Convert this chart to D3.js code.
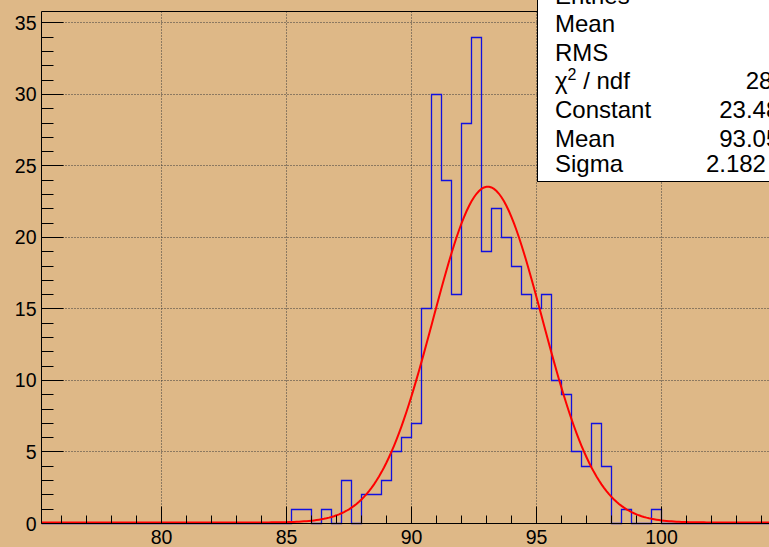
<!DOCTYPE html>
<html>
<head>
<meta charset="utf-8">
<script src="https://cdn.jsdelivr.net/npm/d3@7"></script>
<style>
  html, body { margin: 0; padding: 0; background: #deb887; }
  svg { display: block; font-family: "Liberation Sans", Arial, sans-serif; }
</style>
</head>
<body>
<div id="chart"></div>
<script>
// Histogram bins (low edges, width 0.4) and their counts
const binLow = [85.2, 85.6, 86.0, 86.4, 86.8, 87.2, 87.6, 88.0, 88.4, 88.8,
  89.2, 89.6, 90.0, 90.4, 90.8, 91.2, 91.6, 92.0, 92.4, 92.8,
  93.2, 93.6, 94.0, 94.4, 94.8, 95.2, 95.6, 96.0, 96.4, 96.8,
  97.2, 97.6, 98.0, 98.4, 98.8, 99.2, 99.6];
const counts = [1, 1, 0, 1, 0, 3, 0, 2, 2, 3,
  5, 6, 7, 15, 30, 24, 16, 28, 34, 19,
  22, 20, 18, 16, 15, 16, 10, 9, 5, 4,
  7, 4, 0, 1, 0, 0, 1];
const binWidth = 0.4;

// Gaussian fit parameters shown in the stats box
const fitNames = ['Constant', 'Mean', 'Sigma'];
const fitValues = ['23.48 \u00b1 1.62', '93.05 \u00b1 0.12', '2.182 \u00b1 0.109'];
const fitConstant = 23.48;
const fitMean = 93.05;
const fitSigma = 2.182;
const chi2Text = '28.35 / 31';

// Axis ticks
const xMajor = [80, 85, 90, 95, 100];
const yMajor = [0, 5, 10, 15, 20, 25, 30, 35];

const width = 769;
const height = 547;

const svg = d3.select('#chart')
  .append('svg')
  .attr('width', width)
  .attr('height', height);

svg.append('rect')
  .attr('width', width)
  .attr('height', height)
  .attr('fill', '#deb887');

// Frame: left edge 41.5, top 11.5, bottom 523.5; right side runs off the picture
const frame = { left: 41.5, top: 11.5, bottom: 523.5, right: 791.5 };

const x = d3.scaleLinear()
  .domain([75.2, 105.2])
  .range([frame.left, frame.right]);

const y = d3.scaleLinear()
  .domain([0, 35.8])
  .range([frame.bottom, frame.top]);

// snap to pixel centres so 1px lines stay sharp
const px = v => Math.round(v - 0.5) + 0.5;

// Grid (dotted) at major ticks
const grid = svg.append('g')
  .attr('stroke', '#3a3a3a')
  .attr('stroke-width', 1)
  .attr('stroke-dasharray', '1,2');

grid.selectAll('.vgrid')
  .data(xMajor)
  .join('line')
  .attr('class', 'vgrid')
  .attr('x1', d => px(x(d)))
  .attr('x2', d => px(x(d)))
  .attr('y1', frame.top)
  .attr('y2', frame.bottom);

grid.selectAll('.hgrid')
  .data(yMajor.filter(d => d > 0))
  .join('line')
  .attr('class', 'hgrid')
  .attr('x1', frame.left)
  .attr('x2', width)
  .attr('y1', d => px(y(d)))
  .attr('y2', d => px(y(d)));

// Histogram outline as a step path
const histPath = d3.path();
histPath.moveTo(x(75.2), px(y(0)));
histPath.lineTo(x(binLow[0]), px(y(0)));
binLow.forEach(function (lo, i) {
  histPath.lineTo(x(lo), px(y(counts[i])));
  histPath.lineTo(x(lo + binWidth), px(y(counts[i])));
});
histPath.lineTo(x(binLow[binLow.length - 1] + binWidth), px(y(0)));
histPath.lineTo(x(105.2), px(y(0)));

svg.append('path')
  .attr('d', histPath.toString())
  .attr('fill', 'none')
  .attr('stroke', '#1010e0')
  .attr('stroke-width', 1.3);

// Gaussian fit curve
const curveX = d3.range(0, 301).map(i => 75.2 + i * 0.1);
const gauss = v => fitConstant * Math.exp(-0.5 * Math.pow((v - fitMean) / fitSigma, 2));

svg.append('path')
  .datum(curveX)
  .attr('d', d3.line()
    .x(d => x(d))
    .y(d => y(gauss(d)) - 1))
  .attr('fill', 'none')
  .attr('stroke', '#ff0000')
  .attr('stroke-width', 2);

// Axes: frame lines and inward ticks
const axes = svg.append('g')
  .attr('stroke', '#000')
  .attr('stroke-width', 1);

axes.append('line')
  .attr('x1', frame.left).attr('x2', frame.left)
  .attr('y1', frame.top).attr('y2', frame.bottom);
axes.append('line')
  .attr('x1', frame.left).attr('x2', width)
  .attr('y1', frame.top).attr('y2', frame.top);
axes.append('line')
  .attr('x1', frame.left).attr('x2', width)
  .attr('y1', frame.bottom).attr('y2', frame.bottom);

const yTicks = d3.range(0, 36);
axes.selectAll('.ytick')
  .data(yTicks)
  .join('line')
  .attr('class', 'ytick')
  .attr('x1', frame.left)
  .attr('x2', d => frame.left + (d % 5 === 0 ? 22 : 12))
  .attr('y1', d => px(y(d)))
  .attr('y2', d => px(y(d)));

const xTicks = d3.range(76, 105);
axes.selectAll('.xtick')
  .data(xTicks)
  .join('line')
  .attr('class', 'xtick')
  .attr('x1', d => px(x(d)))
  .attr('x2', d => px(x(d)))
  .attr('y1', frame.bottom)
  .attr('y2', d => frame.bottom - (d % 5 === 0 ? 17 : 8));

// Tick labels
svg.selectAll('.ylabel')
  .data(yMajor)
  .join('text')
  .attr('class', 'ylabel')
  .attr('x', 36.5)
  .attr('y', d => y(d) + 7)
  .attr('text-anchor', 'end')
  .attr('font-size', 19.5)
  .attr('fill', '#000')
  .text(d => d);

svg.selectAll('.xlabel')
  .data(xMajor)
  .join('text')
  .attr('class', 'xlabel')
  .attr('x', d => x(d))
  .attr('y', 543.5)
  .attr('text-anchor', 'middle')
  .attr('font-size', 19.5)
  .attr('fill', '#000')
  .text(d => d);

// Stats box (runs off the top and right edges)
const entries = d3.sum(counts);
const mean = d3.sum(binLow, (lo, i) => (lo + binWidth / 2) * counts[i]) / entries;
const rms = Math.sqrt(d3.sum(binLow, (lo, i) =>
  Math.pow(lo + binWidth / 2 - mean, 2) * counts[i]) / entries);

const statsNames = ['Entries', 'Mean', 'RMS', 'chi2'].concat(fitNames);
const statsValues = [String(entries), mean.toFixed(2), rms.toFixed(3), chi2Text].concat(fitValues);
const statsBaselines = [4, 32, 60.5, 88.5, 118, 146.5, 172];

const stats = svg.append('g');
stats.append('rect')
  .attr('x', 537.5)
  .attr('y', -10)
  .attr('width', 400)
  .attr('height', 191.5)
  .attr('fill', '#fff')
  .attr('stroke', '#000')
  .attr('stroke-width', 1);

const nameText = stats.selectAll('.stat-name')
  .data(statsNames)
  .join('text')
  .attr('class', 'stat-name')
  .attr('x', 555)
  .attr('y', (d, i) => statsBaselines[i])
  .attr('font-size', 24)
  .attr('fill', '#000');

nameText.each(function (d) {
  const t = d3.select(this);
  if (d === 'chi2') {
    t.append('tspan').text('\u03c7');
    t.append('tspan')
      .attr('font-size', 16)
      .attr('dy', -9)
      .text('2');
    t.append('tspan')
      .attr('dy', 9)
      .text(' / ndf');
  } else {
    t.text(d);
  }
});

stats.selectAll('.stat-value')
  .data(statsValues)
  .join('text')
  .attr('class', 'stat-value')
  .attr('x', 852.5)
  .attr('y', (d, i) => statsBaselines[i])
  .attr('text-anchor', 'end')
  .attr('font-size', 24)
  .attr('fill', '#000')
  .text(d => d);
</script>
</body>
</html>
